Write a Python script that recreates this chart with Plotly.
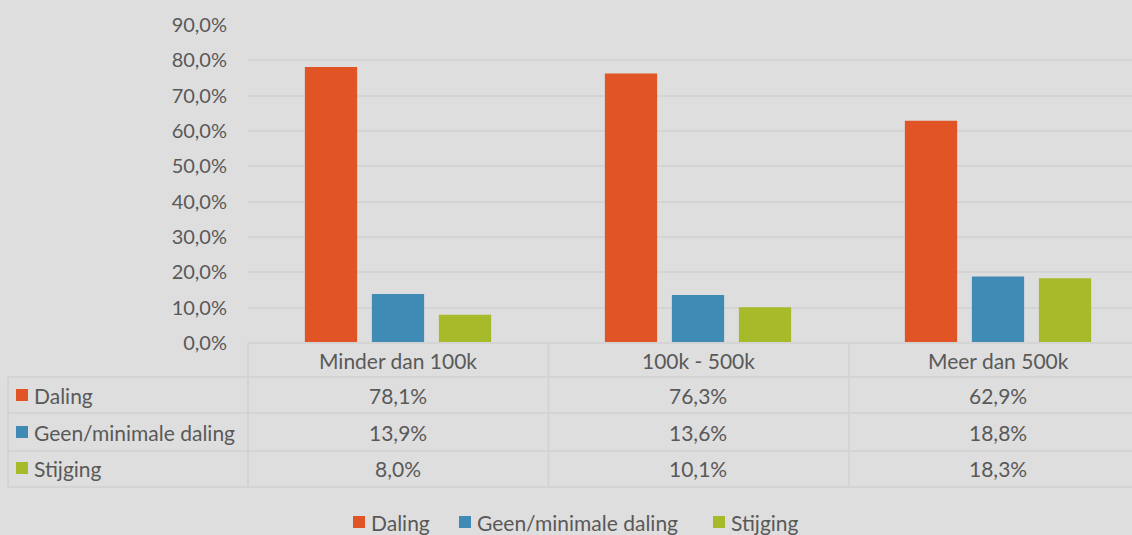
import plotly.graph_objects as go

# Survey results per company size
categories = ["Minder dan 100k", "100k - 500k", "Meer dan 500k"]
series_names = ["Daling", "Geen/minimale daling", "Stijging"]
daling = [78.1, 76.3, 62.9]
geen_daling = [13.9, 13.6, 18.8]
stijging = [8.0, 10.1, 18.3]
y_ticks = [0, 10, 20, 30, 40, 50, 60, 70, 80, 90]

series_values = [daling, geen_daling, stijging]
colors = ["#E05426", "#3F8BB5", "#A7BA2A"]

BG = "#DEDEDE"
TEXT = "#595959"
LINE = "#D4D4D4"
FONT = "Lato, 'Open Sans', sans-serif"
TXT_SIZE = 21

W, H = 1132, 535
M_L, M_R, M_T, M_B = 248, 0, 25, 192
plot_w = W - M_L - M_R
plot_h = H - M_T - M_B


def px_x(p):
    """Pixel column -> paper x."""
    return (p - M_L) / plot_w


def px_y(p):
    """Pixel row -> paper y."""
    return (H - M_B - p) / plot_h


def fmt(v):
    return f"{v:.1f}".replace(".", ",") + "%"


fig = go.Figure()
for name, vals, col in zip(series_names, series_values, colors):
    fig.add_trace(go.Bar(
        x=list(range(len(categories))), y=vals, name=name,
        marker=dict(color=col, line=dict(width=0)),
        hoverinfo="skip", showlegend=False,
    ))

# Data table beneath the chart
rows_px = [343, 377, 413, 451, 487]
row_centers = [360, 395, 432, 468]
table_left = 8
shapes = []
# horizontal rules
shapes.append(dict(type="line", xref="paper", yref="paper",
                   x0=0, x1=1, y0=px_y(rows_px[0]), y1=px_y(rows_px[0]),
                   line=dict(color=LINE, width=2)))
for r in rows_px[1:]:
    shapes.append(dict(type="line", xref="paper", yref="paper",
                       x0=px_x(table_left), x1=1, y0=px_y(r), y1=px_y(r),
                       line=dict(color=LINE, width=2)))
# vertical rules
shapes.append(dict(type="line", xref="paper", yref="paper",
                   x0=px_x(table_left), x1=px_x(table_left),
                   y0=px_y(rows_px[1]), y1=px_y(rows_px[-1]),
                   line=dict(color=LINE, width=2)))
for k in range(len(categories)):
    xb = px_x(M_L + k * 300.5)
    shapes.append(dict(type="line", xref="paper", yref="paper",
                       x0=xb, x1=xb, y0=px_y(rows_px[0]), y1=px_y(rows_px[-1]),
                       line=dict(color=LINE, width=2)))

annotations = []
for i, cat in enumerate(categories):
    annotations.append(dict(x=i, xref="x", y=px_y(row_centers[0]), yref="paper",
                            text=cat, showarrow=False, xanchor="center",
                            yanchor="middle", font=dict(size=TXT_SIZE, color=TEXT)))
for j, (name, vals, col) in enumerate(zip(series_names, series_values, colors)):
    yc = row_centers[j + 1]
    shapes.append(dict(type="rect", xref="paper", yref="paper",
                       x0=px_x(16), x1=px_x(28), y0=px_y(yc - 6), y1=px_y(yc + 6),
                       fillcolor=col, line=dict(width=0)))
    annotations.append(dict(x=px_x(32), xref="paper", y=px_y(yc), yref="paper",
                            text=name, showarrow=False, xanchor="left",
                            yanchor="middle", font=dict(size=TXT_SIZE, color=TEXT)))
    for i, v in enumerate(vals):
        annotations.append(dict(x=i, xref="x", y=px_y(yc), yref="paper",
                                text=fmt(v), showarrow=False, xanchor="center",
                                yanchor="middle", font=dict(size=TXT_SIZE, color=TEXT)))

# Legend along the bottom
legend_y = 522
legend_keys_px = [353, 459, 713]
for name, col, kx in zip(series_names, colors, legend_keys_px):
    shapes.append(dict(type="rect", xref="paper", yref="paper",
                       x0=px_x(kx), x1=px_x(kx + 12),
                       y0=px_y(legend_y - 6), y1=px_y(legend_y + 6),
                       fillcolor=col, line=dict(width=0)))
    annotations.append(dict(x=px_x(kx + 16), xref="paper", y=px_y(legend_y),
                            yref="paper", text=name, showarrow=False,
                            xanchor="left", yanchor="middle",
                            font=dict(size=TXT_SIZE, color=TEXT)))

fig.update_layout(
    width=W, height=H,
    margin=dict(l=M_L, r=M_R, t=M_T, b=M_B, autoexpand=False),
    paper_bgcolor=BG, plot_bgcolor=BG,
    font=dict(family=FONT, size=TXT_SIZE, color=TEXT),
    barmode="group", bargap=0.33, bargroupgap=0.22,
    separators=",.",
    showlegend=False,
    xaxis=dict(range=[-0.5, 2.5 - 16 / 300], showticklabels=False,
               showgrid=False, zeroline=False, showline=False, fixedrange=True),
    yaxis=dict(range=[0, 90], tickvals=y_ticks, ticktext=[fmt(t) for t in y_ticks],
               showgrid=True, gridcolor=LINE, gridwidth=1.5, zeroline=False,
               showline=False, ticks="", ticklabelstandoff=20,
               tickfont=dict(size=20, color=TEXT)),
    shapes=shapes, annotations=annotations,
)

fig.write_html("out.html")
